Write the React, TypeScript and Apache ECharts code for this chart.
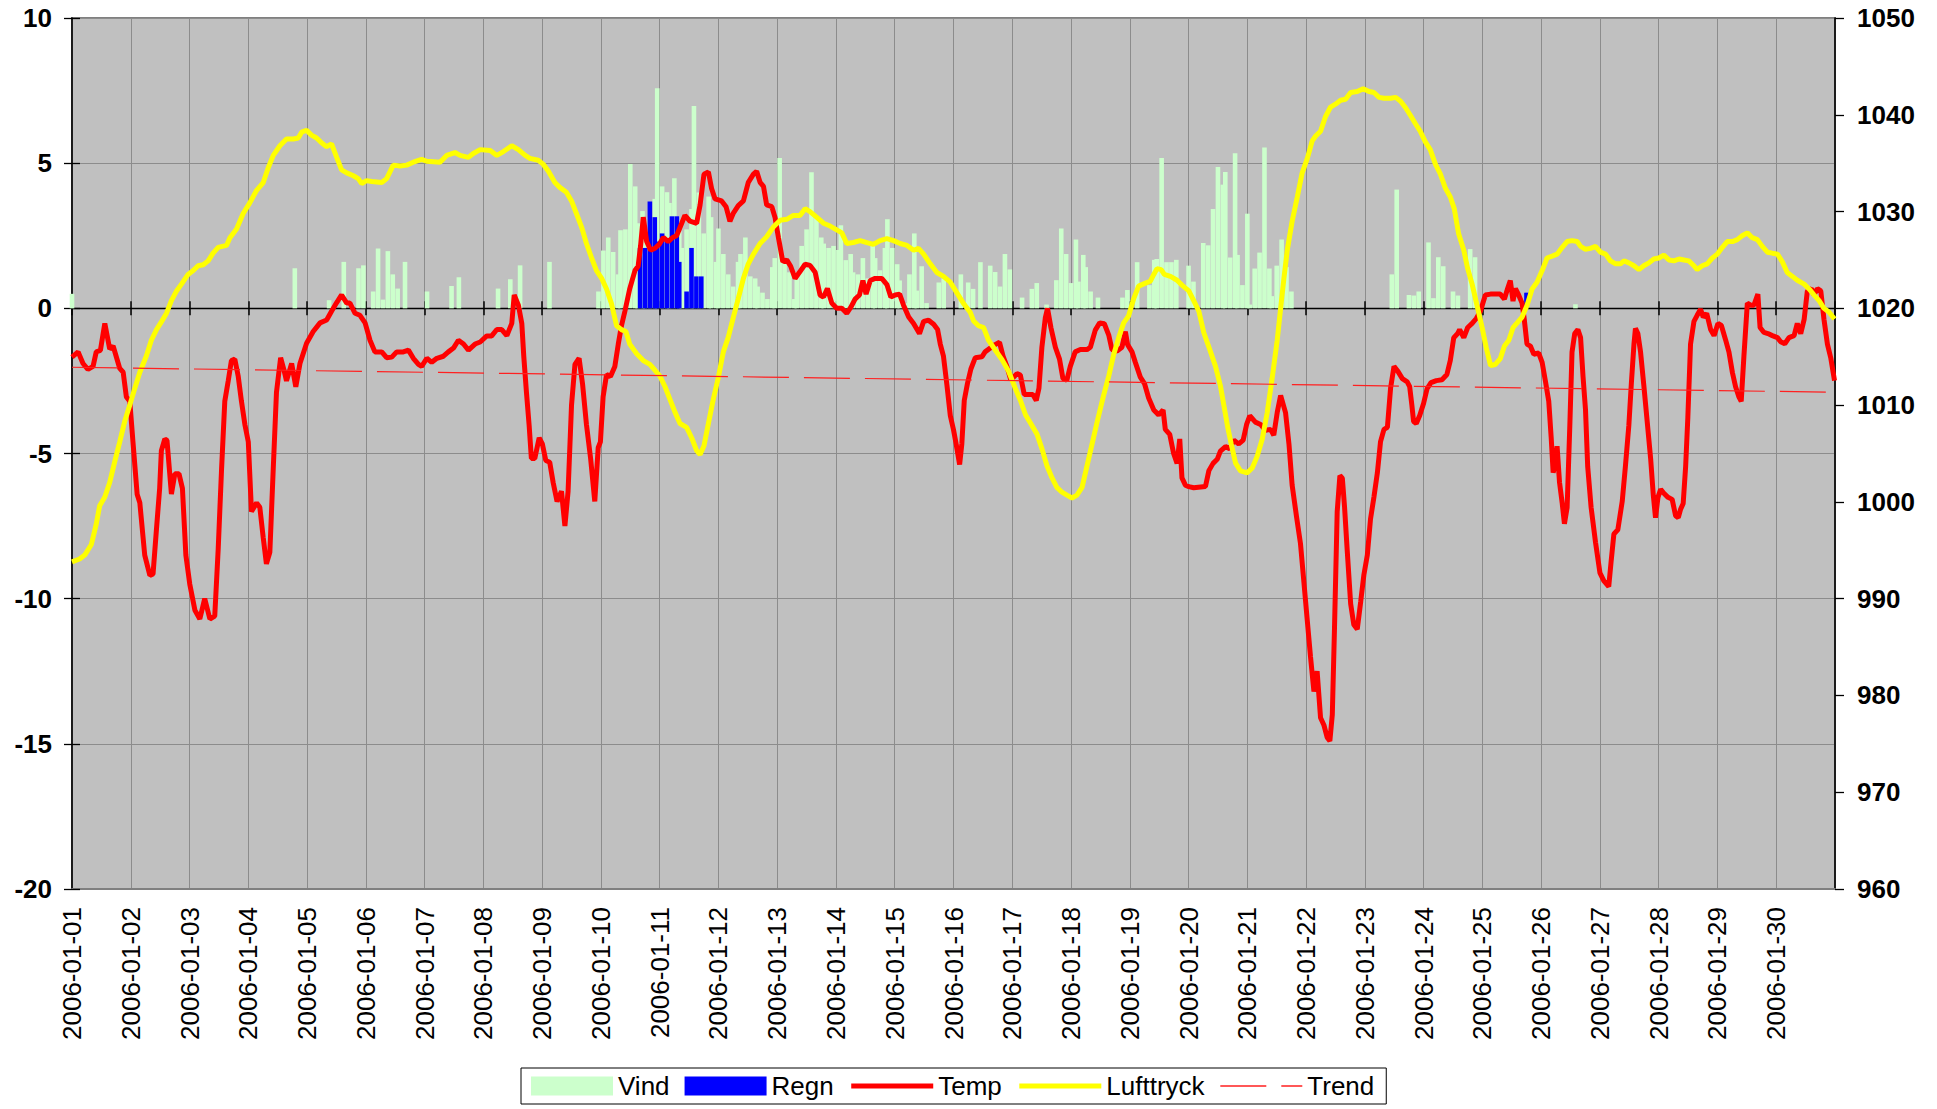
import React, { useEffect, useRef } from 'react';
import * as echarts from 'echarts';

// ---------- data ----------
const dayLabels = [
  '2006-01-01', '2006-01-02', '2006-01-03', '2006-01-04', '2006-01-05', '2006-01-06',
  '2006-01-07', '2006-01-08', '2006-01-09', '2006-01-10', '2006-01-11', '2006-01-12',
  '2006-01-13', '2006-01-14', '2006-01-15', '2006-01-16', '2006-01-17', '2006-01-18',
  '2006-01-19', '2006-01-20', '2006-01-21', '2006-01-22', '2006-01-23', '2006-01-24',
  '2006-01-25', '2006-01-26', '2006-01-27', '2006-01-28', '2006-01-29', '2006-01-30',
];
const hoursPerDay = 24;
const xMaxHours = 720;
const leftTicks = { min: -20, max: 10, step: 5 };
const rightTicks = { min: 960, max: 1050, step: 10 };

// [hour, m/s]
const vindBars: [number, number][] = [
  [0, 0.5], [91, 1.38], [105, 0.28], [111, 1.6], [117, 1.38], [119, 1.48], [123, 0.58], [125, 2.06],
  [127, 0.3], [129, 1.97], [131, 1.17], [133, 0.68], [136, 1.6], [145, 0.58], [155, 0.77], [158, 1.07],
  [174, 0.68], [179, 1.0], [183, 1.48], [195, 1.6],
  [215, 0.58], [217, 1.99], [219, 2.44], [221, 1.94], [223, 1.17], [224, 2.69], [226, 2.72], [228, 4.97],
  [230, 4.2], [231, 2.93], [233, 3.35], [234, 2.72], [236, 3.14], [238, 3.77], [239, 7.58], [241, 4.2],
  [243, 4.0], [244, 3.63], [246, 4.48], [248, 2.65], [249, 2.08], [251, 2.72], [253, 3.42], [254, 6.97],
  [256, 3.99], [258, 2.58], [260, 3.85], [261, 3.14], [263, 1.6], [264, 2.75], [266, 1.87], [268, 1.17],
  [270, 0.75], [272, 1.6], [273, 1.87], [275, 2.44], [277, 1.1], [279, 1.03], [280, 0.75], [282, 0.54],
  [284, 0.32], [286, 1.42], [287, 1.73], [289, 5.18], [291, 1.6], [293, 1.24], [295, 0.32], [296, 1.24],
  [298, 2.15], [300, 2.72], [302, 4.69], [304, 3.14], [306, 2.44], [307, 2.23], [309, 2.08], [311, 2.15],
  [313, 2.01], [314, 2.86], [316, 1.66], [318, 1.87], [319, 1.24], [321, 1.17], [323, 1.73], [325, 1.03],
  [327, 2.15], [328, 1.73], [330, 1.31], [332, 2.08], [333, 3.07], [335, 2.08], [337, 1.52], [338, 0.96],
  [340, 0.18], [342, 1.17], [344, 2.58], [345, 0.61], [347, 1.45], [349, 0.18], [354, 0.89], [356, 1.03],
  [363, 1.17], [366, 0.89],
  [368, 0.67], [371, 1.59], [375, 1.47], [377, 1.25], [379, 0.75], [381, 1.87], [383, 1.34], [388, 0.37],
  [392, 0.67], [394, 0.87], [398, 0.13], [402, 0.97], [404, 2.75], [406, 1.87], [408, 0.87], [410, 2.37],
  [411, 0.92], [413, 1.84], [414, 1.42], [416, 0.58], [419, 0.37], [429, 0.37], [431, 0.63], [435, 1.59],
  [440, 0.8], [442, 1.67], [443, 1.7], [445, 5.18], [447, 1.59], [449, 1.59], [451, 1.67], [456, 1.47],
  [458, 0.92], [462, 2.25], [464, 2.17], [466, 3.42], [468, 4.87], [470, 4.26], [471, 4.7], [473, 1.75],
  [475, 5.34], [476, 1.84], [478, 0.8], [480, 3.26], [481, 0.13], [483, 1.37], [485, 1.92], [487, 5.54],
  [489, 1.37], [490, 0.42], [492, 1.47], [494, 2.37], [496, 1.42], [498, 0.58],
  [539, 1.17], [541, 4.09], [546, 0.46], [548, 0.44], [550, 0.58], [554, 2.27], [556, 0.35], [558, 1.76],
  [560, 1.45], [564, 0.58], [566, 0.44], [571, 2.04], [573, 1.76], [614, 0.14],
];

// [hour, mm]
const regnBars: [number, number][] = [
  [232, 2.08], [234, 2.08], [236, 3.68], [238, 3.14], [239, 2.3], [241, 2.58], [243, 2.37], [245, 3.17],
  [247, 3.17], [248, 1.6], [251, 0.58], [253, 2.08], [255, 1.1], [257, 1.1], [594, 0.54],
];

// [hour, °C]
const tempPoints: [number, number][] = [
  [0, -1.68], [2.5, -1.5], [4.5, -1.9], [6.5, -2.1], [8.6, -2.0], [9.9, -1.5], [11.6, -1.45], [13.4, -0.52],
  [15.4, -1.4], [16.8, -1.3], [19.5, -2.07], [20.9, -2.2], [22.2, -3.05], [23.6, -3.2], [24.9, -4.6], [26.6, -6.4],
  [27.7, -6.7], [29.7, -8.5], [31.8, -9.2], [33.1, -9.15], [34.5, -7.6], [35.8, -6.2], [36.5, -4.9], [37.9, -4.5],
  [38.8, -4.55], [40.6, -6.4], [42.0, -5.7], [43.7, -5.7], [45.1, -6.2], [46.5, -8.5], [48.1, -9.5], [50.2, -10.4],
  [52.2, -10.7], [54.2, -10.0], [56.3, -10.7], [58.3, -10.6], [59.7, -8.3], [61.1, -5.5], [62.4, -3.2], [63.8, -2.5],
  [65.1, -1.8], [66.5, -1.75], [67.9, -2.35], [69.2, -3.2], [70.6, -4.0], [72.0, -4.6], [73.3, -7.0], [75.4, -6.7],
  [76.7, -6.85], [78.1, -7.9], [79.4, -8.8], [80.8, -8.4], [82.2, -5.5], [83.5, -2.9], [85.2, -1.7], [86.5, -2.1],
  [87.6, -2.5], [89.7, -1.9], [91.4, -2.7], [93.1, -1.9], [95.8, -1.2], [98.5, -0.8], [101.3, -0.5], [104, -0.4],
  [106, -0.1], [108.1, 0.2], [110.1, 0.46], [112.2, 0.18], [113.5, 0.18], [115.6, -0.17], [117.6, -0.24], [119.7, -0.5],
  [121.7, -1.1], [123.7, -1.5], [126.5, -1.5], [128.5, -1.7], [130.6, -1.68], [132.6, -1.5], [135.3, -1.5], [137.4, -1.44],
  [139.4, -1.72], [141.5, -1.93], [142.8, -2.0], [144.9, -1.72], [146.9, -1.86], [149, -1.72], [151.7, -1.65], [153.7, -1.5],
  [155.8, -1.37], [157.8, -1.1], [159.9, -1.23], [161.9, -1.44], [164.6, -1.23], [166.7, -1.16], [169.4, -0.95], [171.4, -0.95],
  [173.5, -0.73], [175.5, -0.73], [177.6, -0.94], [179.6, -0.52], [180.6, 0.46], [182.3, 0.11], [183.7, -0.52], [184.5, -1.65],
  [185.6, -2.9], [186.7, -4.04], [187.6, -5.17], [189, -5.17], [190.8, -4.46], [192.1, -4.67], [193.5, -5.24], [195.1, -5.3],
  [196.5, -6.0], [198.1, -6.65], [199.9, -6.3], [201.3, -7.5], [202.6, -6.3], [204, -3.34], [205.4, -1.93], [207.1, -1.72],
  [208.5, -2.6], [210.1, -4.0], [211.8, -5.17], [213.5, -6.65], [214.9, -4.8], [215.8, -4.6], [216.9, -3.05], [218.3, -2.28],
  [219.9, -2.35], [221.7, -2.0], [223.1, -1.23], [224.4, -0.6], [225.8, -0.1], [227.8, 0.68], [229.9, 1.3], [231.2, 1.45],
  [232.2, 2.15], [233.3, 3.14], [234.7, 2.3], [236.3, 2.0], [238.1, 2.07], [239.8, 2.2], [241.5, 2.44], [243.5, 2.3],
  [245.3, 2.44], [246.9, 2.5], [249, 2.93], [250.3, 3.2], [252.4, 3.0], [255.1, 2.93], [256.5, 3.56], [258.1, 4.62],
  [259.9, 4.7], [261.2, 4.13], [262.6, 3.77], [265.3, 3.7], [267.1, 3.5], [268.7, 3.0], [270.1, 3.28], [272.1, 3.54],
  [274.2, 3.7], [276.2, 4.34], [278.3, 4.62], [279.6, 4.72], [281, 4.34], [282.4, 4.2], [283.7, 3.56], [285.8, 3.5],
  [287.1, 3.14], [288.5, 2.44], [290.3, 1.6], [291.9, 1.67], [293.5, 1.45], [295.3, 1.03], [297.1, 1.24], [299.4, 1.52],
  [301.4, 1.48], [303.5, 1.24], [305.5, 0.46], [306.9, 0.39], [308.5, 0.68], [310.3, 0.18], [312.3, 0.0], [314.4, 0.0],
  [316.4, -0.17], [318.1, 0.04], [319.8, 0.32], [321.6, 0.46], [323, 0.96], [324.3, 0.49], [326, 0.96], [328, 1.03],
  [330.7, 1.03], [332.8, 0.82], [334.4, 0.39], [336.2, 0.46], [338, 0.49], [339.6, 0.11], [341.7, -0.3], [343.7, -0.52],
  [346.1, -0.87], [347.8, -0.45], [349.8, -0.41], [351.9, -0.55], [353.5, -0.73], [354.6, -1.23], [355.9, -1.65], [357.3, -2.63],
  [358.7, -3.7], [360, -4.18], [361.1, -4.68], [362.5, -5.38], [363.4, -4.67], [364.4, -3.17], [365.7, -2.59], [367.1, -2.09],
  [368.9, -1.7], [371.6, -1.67], [372.9, -1.5], [375, -1.37], [377, -1.25], [378.8, -1.17], [380.2, -1.64], [381.8, -2.0],
  [383.4, -2.47], [385.9, -2.25], [387.3, -2.3], [388.9, -2.97], [390.7, -2.97], [392.4, -2.97], [393.8, -3.17], [394.9, -2.75],
  [396.1, -1.34], [397.5, -0.33], [398.4, 0.0], [399.8, -0.67], [401.6, -1.34], [403.3, -1.75], [404.7, -2.42], [406.3, -2.47],
  [407.7, -2.0], [409.7, -1.5], [411.8, -1.42], [414.5, -1.42], [415.9, -1.34], [417.9, -0.75], [419.7, -0.5], [421.6, -0.53],
  [423.4, -0.92], [424.7, -1.42], [426.8, -1.47], [428.8, -1.34], [430.2, -0.8], [431.1, -1.25], [432.9, -1.5], [434.3, -1.87],
  [436.3, -2.37], [438, -2.59], [439.7, -3.09], [441.8, -3.5], [443.8, -3.67], [445.6, -3.5], [446.5, -4.17], [448.3, -4.34],
  [449.9, -5.0], [451.3, -5.34], [452.4, -4.5], [453.3, -5.84], [454.7, -6.09], [456.1, -6.14], [458.1, -6.18], [462.9, -6.14],
  [464.3, -5.59], [466, -5.34], [467.7, -5.2], [469, -4.92], [471.1, -4.76], [472.8, -4.84], [474.5, -4.54], [476.5, -4.67],
  [478.3, -4.54], [479.7, -4.0], [481, -3.7], [483.3, -3.92], [485.4, -4.0], [487.4, -4.2], [489.5, -4.17], [490.8, -4.37],
  [492.2, -3.59], [493.6, -3.0], [495.6, -3.59], [497, -4.67], [498.3, -6.09], [500.1, -7.18], [501.7, -8.1], [503.1, -9.43],
  [504.5, -10.77], [505.8, -12.0], [507.2, -13.2], [508.5, -12.5], [509.9, -14.1], [511.3, -14.36], [512.6, -14.78], [513.7, -14.9],
  [514.7, -14.0], [515.6, -11.0], [516.7, -7.0], [517.8, -5.76], [518.8, -5.85], [519.7, -6.84], [520.8, -8.35], [522.2, -10.18],
  [523.5, -10.9], [524.9, -11.05], [526.3, -10.1], [527.6, -9.18], [529, -8.5], [530.3, -7.26], [531.7, -6.5], [533.1, -5.67],
  [534.4, -4.59], [535.8, -4.17], [537.2, -4.1], [538.5, -2.75], [539.9, -2.0], [541.5, -2.17], [543.3, -2.42], [545.3, -2.53],
  [546.3, -2.7], [547.2, -3.34], [547.9, -3.9], [549, -3.97], [550.4, -3.69], [552, -3.27], [553.4, -2.77], [555, -2.56],
  [557.2, -2.49], [559.5, -2.46], [561.5, -2.28], [562.9, -1.79], [564.3, -1.01], [565.9, -0.87], [566.7, -0.73], [568.4, -1.01],
  [570, -0.66], [571.8, -0.52], [573.5, -0.35], [575.2, -0.1], [577.2, 0.46], [579.3, 0.49], [581.3, 0.49], [583.3, 0.49],
  [585, 0.32], [586.3, 0.68], [587.4, 0.96], [588.5, 0.25], [589.5, 0.68], [590.8, 0.46], [592.2, 0.18], [593.1, -0.38],
  [594.2, -1.23], [595.6, -1.3], [597, -1.58], [599, -1.54], [600.4, -1.86], [601.7, -2.49], [603.1, -3.2], [604.1, -4.46],
  [604.9, -5.66], [605.7, -5.38], [606.5, -4.75], [607.5, -6.0], [608.6, -6.72], [609.5, -7.42], [610.6, -6.86], [611.7, -4.04],
  [612.6, -1.51], [613.7, -0.87], [615, -0.73], [616.1, -1.01], [617.1, -2.35], [618.1, -3.48], [619, -5.45], [620.4, -6.86],
  [622.2, -8.06], [624, -9.11], [625.6, -9.39], [627.6, -9.58], [628.6, -8.69], [629.7, -7.77], [631.3, -7.63], [633.1, -6.65],
  [634.4, -5.45], [635.8, -4.04], [636.8, -2.63], [637.9, -1.23], [638.5, -0.69], [639.5, -0.87], [640.6, -1.51], [641.9, -2.63],
  [643.3, -3.9], [644.7, -5.17], [645.8, -6.44], [646.7, -7.21], [647.7, -6.51], [648.8, -6.23], [650.1, -6.37], [651.8, -6.51],
  [653.5, -6.58], [654.9, -7.14], [656, -7.21], [656.9, -6.93], [658, -6.72], [659, -5.45], [659.9, -3.76], [661, -1.23],
  [662.4, -0.45], [663.7, -0.24], [665.1, -0.03], [666.2, -0.31], [667.6, -0.17], [669.2, -0.73], [670.6, -0.94], [672.2, -0.52],
  [673.6, -0.59], [675.3, -1.08], [676.7, -1.51], [678.1, -2.21], [679.4, -2.7], [680.8, -3.06], [681.7, -3.2], [682.8, -1.65],
  [684.2, 0.18], [685.6, 0.11], [686.9, 0.11], [688.5, 0.49], [689.4, -0.66], [691, -0.83], [692.6, -0.87], [694.4, -0.94],
  [696.5, -1.01], [697.8, -1.15], [699.5, -1.22], [701.2, -1.01], [703.3, -0.94], [704.6, -0.52], [706, -0.87], [707.4, -0.38],
  [708.7, 0.6], [710.4, 0.68], [711.4, 0.46], [712.8, 0.68], [714.2, 0.6], [715.5, -0.38], [716.9, -1.23], [718.3, -1.72],
  [719.8, -2.49],
];

// [hour, hPa]
const lufttryckPoints: [number, number][] = [
  [0, 993.8], [3.1, 994.1], [5.2, 994.5], [7.9, 995.6], [9.9, 997.7], [11.3, 999.6], [13.4, 1000.5], [15.4, 1002],
  [17.4, 1004.1], [19.5, 1006.2], [21.5, 1008.3], [23.6, 1010], [25.6, 1011.7], [27.7, 1013.4], [30.4, 1015.1], [32.4, 1016.7],
  [34.5, 1017.8], [36.5, 1018.6], [38.6, 1019.5], [40.6, 1020.8], [42.7, 1021.8], [44.7, 1022.5], [47.4, 1023.5], [49.5, 1023.9],
  [51.5, 1024.4], [53.6, 1024.5], [55.6, 1024.9], [57.6, 1025.7], [59.7, 1026.3], [63.1, 1026.5], [64.5, 1027.3], [67.2, 1028.2],
  [69.9, 1029.8], [72.6, 1030.9], [75.4, 1032.2], [78.1, 1033], [80.1, 1034.5], [82.2, 1035.8], [84.9, 1036.8], [87.6, 1037.5],
  [90.4, 1037.5], [92.4, 1037.6], [93.8, 1038.2], [95.8, 1038.4], [97.8, 1037.9], [99.9, 1037.6], [101.9, 1037.1], [104, 1036.7],
  [106, 1037.0], [108.1, 1035.6], [110.1, 1034.3], [112.2, 1034.0], [114.9, 1033.7], [116.9, 1033.4], [118.3, 1032.9], [120.3, 1033.2],
  [122.4, 1033.1], [126.5, 1033.0], [128.5, 1033.4], [131.2, 1034.8], [134, 1034.7], [136.7, 1034.8], [139.4, 1035.1], [142.8, 1035.4],
  [144.9, 1035.2], [150.3, 1035.1], [153, 1035.8], [156.4, 1036.1], [158.5, 1035.8], [161.9, 1035.6], [163.9, 1036.0], [166.7, 1036.4],
  [170.8, 1036.3], [173.5, 1035.8], [176.2, 1036.2], [179.6, 1036.8], [182.3, 1036.4], [185.1, 1035.8], [187, 1035.5], [190.4, 1035.3],
  [192.4, 1034.9], [194.5, 1034.2], [197.2, 1033], [199.2, 1032.5], [201.9, 1032], [204, 1031.1], [206, 1029.8], [208.1, 1028.4],
  [210.1, 1026.7], [212.2, 1025.2], [214.2, 1023.9], [216.3, 1023.1], [218.3, 1022], [220.3, 1020.5], [222.4, 1018.2], [224.4, 1017.8],
  [226.2, 1017.6], [227.8, 1016.3], [230.6, 1015.3], [233.3, 1014.6], [236, 1014.2], [238.1, 1013.6], [240.1, 1013], [242.2, 1011.9],
  [244.2, 1010.6], [246.2, 1009.3], [248.3, 1008.1], [251, 1007.7], [253.1, 1006.6], [255.1, 1005.3], [256.5, 1004.9], [258.1, 1005.8],
  [259.9, 1008.1], [261.9, 1010.6], [264, 1012.9], [266, 1015.5], [268, 1017], [270.1, 1019.1], [272.1, 1021], [274.2, 1023.1],
  [276.2, 1024.6], [278.3, 1025.6], [281, 1026.7], [283.7, 1027.4], [286.4, 1028.4], [289.2, 1029.1], [291.9, 1029.2], [294.6, 1029.6],
  [297.3, 1029.6], [299.4, 1030.3], [301.4, 1030.0], [304.2, 1029.4], [306.9, 1028.8], [309.6, 1028.5], [312.3, 1028.1], [314.4, 1027.8],
  [316.4, 1026.7], [319.1, 1026.8], [321.9, 1027.0], [324.6, 1026.8], [327.3, 1026.6], [330, 1027.0], [332.8, 1027.2], [335.5, 1027.0],
  [338.2, 1026.7], [341, 1026.5], [343.7, 1026], [345.7, 1026.2], [347.8, 1025.6], [350.5, 1024.6], [353.2, 1023.7], [355.9, 1023.3],
  [358.7, 1022.7], [361.4, 1021.6], [364.1, 1020.5], [366.8, 1019.6], [368.2, 1018.7], [370.2, 1018.2], [372.3, 1018.0], [374.3, 1016.7],
  [377, 1015.7], [379.8, 1014.7], [382.5, 1013.5], [385.3, 1011.7], [387.3, 1010.5], [389.4, 1009], [391.3, 1008.2], [394.1, 1007],
  [396.1, 1005.5], [398.2, 1003.7], [400.2, 1002.5], [402.2, 1001.5], [404.3, 1001], [406.3, 1000.7], [408.4, 1000.4], [410.4, 1000.7],
  [412.5, 1001.5], [414.5, 1003.7], [416.6, 1006], [418.6, 1008.2], [421.3, 1011], [423.4, 1013], [425.4, 1015.2], [427.5, 1017],
  [429.5, 1018.5], [431.5, 1019.2], [433.6, 1021], [435.6, 1022.3], [438.4, 1022.6], [440.4, 1022.8], [441.8, 1023.5], [443.1, 1024.1],
  [444.8, 1024.0], [446.1, 1023.5], [448.6, 1023.3], [451.3, 1022.9], [453.3, 1022.4], [456.1, 1021.8], [458.1, 1020.8], [460.2, 1019.7],
  [462.2, 1017.5], [464.3, 1016], [467, 1014], [469, 1012], [470.4, 1010], [472, 1007.7], [473.4, 1006], [475.2, 1004],
  [477.2, 1003.2], [479.9, 1003], [482, 1003.5], [484, 1004.7], [486.1, 1006.5], [488.1, 1009.2], [490.1, 1012.7], [492.2, 1016.7],
  [493.6, 1020], [494.9, 1023], [496.3, 1026], [498.3, 1029], [500.4, 1031.5], [502.4, 1034], [504.5, 1035.5], [506.5, 1037.3],
  [507.9, 1037.8], [509.9, 1038.3], [511.9, 1039.8], [514, 1040.8], [516, 1041.1], [518.1, 1041.5], [520.1, 1041.6], [522.2, 1042.3],
  [524.9, 1042.4], [527.3, 1042.7], [529.7, 1042.4], [531.7, 1042.3], [533.8, 1041.8], [535.8, 1041.7], [538.5, 1041.7], [540.6, 1041.8],
  [542.6, 1041.4], [544.7, 1040.7], [546.7, 1039.9], [548.6, 1039.1], [550.6, 1038.3], [552.7, 1037.2], [554.7, 1036.4], [556.8, 1034.9],
  [558.8, 1033.9], [560.9, 1032.4], [562.9, 1031.5], [564.5, 1030.3], [566.3, 1027.7], [568.4, 1026], [570, 1024.1], [571.8, 1022.5],
  [573.8, 1020.3], [575.9, 1018], [577.6, 1015.9], [579.3, 1014.1], [581.3, 1014.2], [583.3, 1014.8], [585, 1016.1], [586.8, 1016.7],
  [588.5, 1018], [590.2, 1018.5], [592.2, 1019.1], [594.2, 1020.3], [596.3, 1022], [598.3, 1022.7], [600.4, 1023.9], [602.4, 1025.2],
  [604.5, 1025.4], [606.5, 1025.6], [608.6, 1026.3], [610.6, 1026.9], [612.6, 1027.0], [614.7, 1026.9], [616.1, 1026.4], [618.1, 1026.1],
  [620.1, 1026.2], [622.2, 1026.4], [624.2, 1025.8], [626.3, 1025.6], [628.3, 1024.9], [630.4, 1024.6], [632.4, 1024.6], [633.8, 1024.9],
  [635.8, 1024.7], [637.9, 1024.4], [639.9, 1024], [641.9, 1024.4], [644, 1024.7], [646, 1025.1], [648.1, 1025.2], [650.1, 1025.5],
  [652.2, 1025.0], [654.2, 1024.9], [656.3, 1025.1], [658.3, 1025.0], [660.3, 1024.9], [662.4, 1024.4], [663.7, 1024.0], [665.8, 1024.4],
  [667.8, 1024.6], [669.9, 1025.2], [671.9, 1025.6], [674, 1026.3], [676, 1026.9], [678.1, 1026.9], [680.1, 1027.1], [682.1, 1027.5],
  [684.2, 1027.8], [686.2, 1027.3], [688.3, 1027.1], [690.3, 1026.4], [692.4, 1025.8], [694.4, 1025.7], [696.5, 1025.6], [698.5, 1024.8],
  [700.5, 1023.7], [702.6, 1023.3], [704.6, 1022.9], [707.4, 1022.5], [709.4, 1022], [711.4, 1021.4], [713.5, 1020.8], [715.5, 1020],
  [717.6, 1019.6], [719.8, 1018.9],
];

// linear trend of Temp: [hour, °C] at start and end
const trendPoints: [number, number][] = [[0, -2.03], [720, -2.89]];

const FONT = 'Arial, "Liberation Sans", Helvetica, sans-serif';

export default function App() {
  const ref = useRef<HTMLDivElement>(null);

  useEffect(() => {
    if (!ref.current) return;
    const chart = echarts.init(ref.current, null, { renderer: 'svg' });

    const dayFormatter = (v: number) => {
      if (v % hoursPerDay !== 0) return '';
      return dayLabels[v / hoursPerDay] ?? '';
    };

    const xBase = {
      type: 'value' as const,
      min: 0,
      max: xMaxHours,
      interval: hoursPerDay,
      position: 'bottom' as const,
    };

    const hiddenSymbol = { opacity: 0 };

    const option: any = {
      animation: false,
      backgroundColor: '#ffffff',
      textStyle: { fontFamily: FONT },
      grid: {
        left: 72,
        right: 102,
        top: 18,
        bottom: 220,
        show: true,
        backgroundColor: '#C0C0C0',
        borderColor: '#808080',
        borderWidth: 2,
      },
      legend: {
        left: 521,
        top: 1068,
        orient: 'horizontal',
        itemWidth: 82,
        itemHeight: 19,
        itemGap: 15,
        padding: [5, 12, 5, 10],
        borderColor: '#000000',
        borderWidth: 1,
        borderRadius: 0,
        backgroundColor: '#ffffff',
        textStyle: { fontSize: 26, color: '#000000', fontFamily: FONT },
        data: [
          { name: 'Vind', icon: 'rect' },
          { name: 'Regn', icon: 'rect' },
          { name: 'Temp', itemStyle: hiddenSymbol, lineStyle: { width: 5, color: '#FF0000' } },
          { name: 'Lufttryck', itemStyle: hiddenSymbol, lineStyle: { width: 5, color: '#FFFF00' } },
          { name: 'Trend', itemStyle: hiddenSymbol, lineStyle: { width: 1.5, color: '#FF2020', type: [46, 15] } },
        ],
      },
      xAxis: [
        {
          ...xBase,
          axisLine: { show: true, onZero: false, lineStyle: { color: '#808080', width: 2 } },
          axisTick: { show: false },
          axisLabel: {
            show: true,
            rotate: 90,
            margin: 18,
            fontSize: 26,
            color: '#000000',
            fontFamily: FONT,
            formatter: dayFormatter,
            showMaxLabel: false,
          },
          splitLine: { show: true, lineStyle: { color: '#8c8c8c', width: 1 } },
        },
        {
          ...xBase,
          axisLine: { show: true, onZero: true, onZeroAxisIndex: 0, lineStyle: { color: '#000000', width: 1.3 } },
          axisTick: { show: true, inside: false, length: 7, lineStyle: { color: '#000000', width: 1.5 } },
          axisLabel: { show: false },
          splitLine: { show: false },
        },
        {
          ...xBase,
          axisLine: { show: false, onZero: true, onZeroAxisIndex: 0 },
          axisTick: { show: true, inside: true, length: 7, lineStyle: { color: '#000000', width: 1.5 } },
          axisLabel: { show: false },
          splitLine: { show: false },
        },
      ],
      yAxis: [
        {
          type: 'value',
          position: 'left',
          min: leftTicks.min,
          max: leftTicks.max,
          interval: leftTicks.step,
          axisLine: { show: true, onZero: false, lineStyle: { color: '#000000', width: 1.6 } },
          axisTick: { show: true, inside: false, length: 8, lineStyle: { color: '#000000', width: 1.3 } },
          axisLabel: {
            margin: 20, fontSize: 26, fontWeight: 'bold', color: '#000000', fontFamily: FONT,
            formatter: (v: number) => String(v),
          },
          splitLine: { show: true, lineStyle: { color: '#8c8c8c', width: 1 } },
        },
        {
          type: 'value',
          position: 'right',
          min: rightTicks.min,
          max: rightTicks.max,
          interval: rightTicks.step,
          axisLine: { show: true, onZero: false, lineStyle: { color: '#000000', width: 1.6 } },
          axisTick: { show: true, inside: false, length: 9, lineStyle: { color: '#000000', width: 1.3 } },
          axisLabel: {
            margin: 22, fontSize: 26, fontWeight: 'bold', color: '#000000', fontFamily: FONT,
            formatter: (v: number) => String(v),
          },
          splitLine: { show: false },
        },
        {
          type: 'value',
          position: 'left',
          min: leftTicks.min,
          max: leftTicks.max,
          interval: leftTicks.step,
          axisLine: { show: false, onZero: false },
          axisTick: { show: true, inside: true, length: 8, lineStyle: { color: '#000000', width: 1.3 } },
          axisLabel: { show: false },
          splitLine: { show: false },
        },
      ],
      series: [
        {
          name: 'Vind',
          type: 'bar',
          xAxisIndex: 0,
          yAxisIndex: 0,
          barWidth: 4.6,
          barGap: '-100%',
          itemStyle: { color: '#CCFFCC' },
          data: vindBars,
        },
        {
          name: 'Regn',
          type: 'bar',
          xAxisIndex: 0,
          yAxisIndex: 0,
          barWidth: 4.6,
          barGap: '-100%',
          itemStyle: { color: '#0000FF' },
          data: regnBars,
        },
        {
          name: 'Temp',
          type: 'line',
          xAxisIndex: 0,
          yAxisIndex: 0,
          symbol: 'none',
          showSymbol: false,
          lineStyle: { color: '#FF0000', width: 5 },
          itemStyle: { color: '#FF0000' },
          data: tempPoints,
        },
        {
          name: 'Lufttryck',
          type: 'line',
          xAxisIndex: 0,
          yAxisIndex: 1,
          symbol: 'none',
          showSymbol: false,
          lineStyle: { color: '#FFFF00', width: 5 },
          itemStyle: { color: '#FFFF00' },
          data: lufttryckPoints,
        },
        {
          name: 'Trend',
          type: 'line',
          xAxisIndex: 0,
          yAxisIndex: 0,
          symbol: 'none',
          showSymbol: false,
          lineStyle: { color: '#FF2020', width: 1.2, type: [46, 15] },
          itemStyle: { color: '#FF2020' },
          data: trendPoints,
        },
      ],
    };

    chart.setOption(option);
    return () => {
      chart.dispose();
    };
  }, []);

  return (
    <div
      ref={ref}
      style={{ position: 'fixed', left: 0, top: 0, width: 1937, height: 1109, background: '#ffffff' }}
    />
  );
}
